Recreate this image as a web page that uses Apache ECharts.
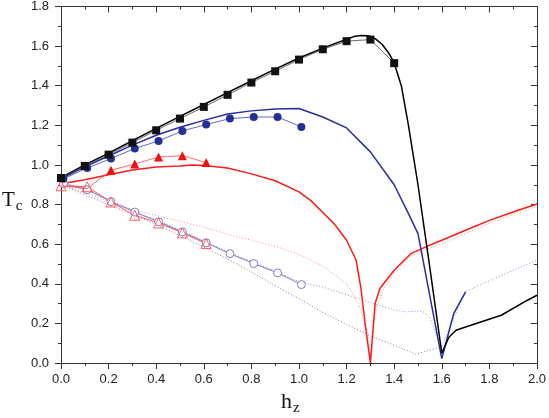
<!DOCTYPE html>
<html>
<head>
<meta charset="utf-8">
<script src="https://cdn.jsdelivr.net/npm/echarts@6/dist/echarts.min.js"></script>
<style>
  html, body { margin: 0; padding: 0; background: #fff; }
  #chart { width: 549px; height: 418px; }
</style>
</head>
<body>
<div id="chart"></div>
<script>
// filled squares + thick black curve
const squareX = [0, 0.1, 0.2, 0.3, 0.4, 0.5, 0.6, 0.7, 0.8, 0.9, 1.0, 1.1, 1.2, 1.3, 1.4]
const squareY = [0.934, 0.995, 1.052, 1.113, 1.175, 1.234, 1.293, 1.354, 1.416, 1.473, 1.532, 1.584, 1.625, 1.633, 1.514]
const blackX = [0, 0.1, 0.2, 0.3, 0.4, 0.5, 0.6, 0.7, 0.8, 0.9, 1.0, 1.1, 1.2, 1.23, 1.26, 1.29, 1.32, 1.35, 1.38, 1.4, 1.43, 1.46, 1.5, 1.55, 1.6, 1.63, 1.66, 1.7, 1.85, 1.96, 2.0]
const blackY = [0.936, 1.0, 1.06, 1.122, 1.185, 1.245, 1.305, 1.365, 1.425, 1.484, 1.54, 1.59, 1.635, 1.648, 1.654, 1.652, 1.638, 1.608, 1.56, 1.515, 1.40, 1.2, 0.9, 0.48, 0.05, 0.13, 0.165, 0.182, 0.241, 0.317, 0.342]

// filled circles + thick blue curve
const circleX = [0.01, 0.11, 0.21, 0.31, 0.41, 0.51, 0.61, 0.71, 0.81, 0.91, 1.01]
const circleY = [0.93, 0.985, 1.032, 1.083, 1.121, 1.172, 1.204, 1.234, 1.242, 1.242, 1.192]
const blueX = [0, 0.1, 0.2, 0.3, 0.4, 0.5, 0.6, 0.7, 0.8, 0.9, 1.0, 1.1, 1.2, 1.3, 1.4, 1.46, 1.5, 1.6, 1.65, 1.7]
const blueY = [0.93, 0.99, 1.045, 1.1, 1.15, 1.19, 1.225, 1.257, 1.273, 1.282, 1.285, 1.242, 1.187, 1.066, 0.9, 0.754, 0.653, 0.022, 0.249, 0.359]

// filled triangles + thick red curve
const triX = [0, 0.11, 0.21, 0.31, 0.41, 0.51, 0.61]
const triY = [0.895, 0.88, 0.973, 1.005, 1.04, 1.047, 1.012]
const redX = [0, 0.1, 0.2, 0.3, 0.4, 0.5, 0.55, 0.6, 0.7, 0.8, 0.9, 1.0, 1.05, 1.1, 1.15, 1.2, 1.24, 1.26, 1.28, 1.3, 1.32, 1.34, 1.4, 1.47, 1.54, 1.6, 1.7, 1.8, 1.9, 2.0]
const redY = [0.905, 0.925, 0.95, 0.975, 0.99, 0.995, 1.0, 0.997, 0.985, 0.955, 0.92, 0.864, 0.82, 0.76, 0.70, 0.62, 0.52, 0.38, 0.18, 0.0, 0.30, 0.376, 0.468, 0.552, 0.59, 0.62, 0.67, 0.72, 0.762, 0.803]

// open symbols
const openTriX = [0, 0.11, 0.21, 0.31, 0.41, 0.51, 0.61]
const openTriY = [0.895, 0.89, 0.813, 0.746, 0.707, 0.657, 0.603]
const openCircX = [0.01, 0.11, 0.21, 0.31, 0.41, 0.51, 0.61, 0.71, 0.81, 0.91, 1.01]
const openCircY = [0.905, 0.875, 0.815, 0.762, 0.713, 0.662, 0.607, 0.552, 0.502, 0.455, 0.396]

// dotted curves
const pinkDotX = [0, 0.1, 0.2, 0.3, 0.4, 0.5, 0.6, 0.7, 0.8, 0.9, 1.0, 1.1, 1.2, 1.25, 1.29, 1.3, 1.32, 1.35, 1.4, 1.47, 1.55, 1.6, 1.7, 1.8, 1.9, 2.0]
const pinkDotY = [0.9, 0.86, 0.815, 0.775, 0.745, 0.715, 0.685, 0.65, 0.62, 0.59, 0.548, 0.49, 0.40, 0.30, 0.15, 0.04, 0.26, 0.36, 0.455, 0.54, 0.58, 0.6, 0.655, 0.705, 0.75, 0.79]
const blueDotX = [0, 0.1, 0.2, 0.3, 0.4, 0.5, 0.6, 0.7, 0.8, 0.9, 1.0, 1.1, 1.2, 1.3, 1.4, 1.45, 1.5, 1.52, 1.55, 1.58, 1.6, 1.64, 1.7, 1.82, 2.0]
const blueDotY = [0.91, 0.885, 0.825, 0.772, 0.722, 0.672, 0.617, 0.562, 0.512, 0.465, 0.41, 0.383, 0.345, 0.305, 0.268, 0.258, 0.263, 0.26, 0.232, 0.13, 0.08, 0.2, 0.36, 0.426, 0.52]
const greyDotX = [0, 0.2, 0.4, 0.5, 0.6, 0.7, 0.8, 0.9, 1.0, 1.1, 1.2, 1.3, 1.4, 1.49, 1.55, 1.6]
const greyDotY = [0.9, 0.8, 0.7, 0.643, 0.585, 0.525, 0.46, 0.39, 0.325, 0.255, 0.195, 0.137, 0.09, 0.045, 0.065, 0.08]

const zip = (xs, ys) => xs.map((x, i) => [x, ys[i]])

const chart = echarts.init(document.getElementById('chart'))

const axisFont = { color: '#222', fontSize: 13, fontFamily: "'Liberation Sans', Arial, sans-serif" }
const serif = "'Liberation Serif', 'DejaVu Serif', serif"
const lineCol = { color: '#333', width: 1 }

chart.setOption({
  animation: false,
  grid: { left: 61, right: 10, top: 6, bottom: 55 },
  xAxis: [
    {
      type: 'value', min: 0, max: 2, interval: 0.2,
      axisLine: { show: true, lineStyle: lineCol },
      axisTick: { show: true, inside: false, length: 6, lineStyle: lineCol },
      minorTick: { show: true, splitNumber: 2, length: 3, lineStyle: lineCol },
      axisLabel: { ...axisFont, margin: 10, formatter: v => v.toFixed(1) },
      splitLine: { show: false }
    },
    {
      type: 'value', min: 0, max: 2, interval: 0.2, position: 'top',
      axisLine: { show: true, onZero: false, lineStyle: lineCol },
      axisTick: { show: true, inside: true, length: 6, lineStyle: lineCol },
      minorTick: { show: true, splitNumber: 2, length: 3, lineStyle: lineCol },
      axisLabel: { show: false },
      splitLine: { show: false }
    }
  ],
  yAxis: [
    {
      type: 'value', min: 0, max: 1.8, interval: 0.2,
      axisLine: { show: true, lineStyle: lineCol },
      axisTick: { show: true, inside: false, length: 6, lineStyle: lineCol },
      minorTick: { show: true, splitNumber: 2, length: 3, lineStyle: lineCol },
      axisLabel: { ...axisFont, margin: 12, formatter: v => v.toFixed(1) },
      splitLine: { show: false }
    },
    {
      type: 'value', min: 0, max: 1.8, interval: 0.2, position: 'right',
      axisLine: { show: true, onZero: false, lineStyle: lineCol },
      axisTick: { show: true, inside: true, length: 6, lineStyle: lineCol },
      minorTick: { show: true, splitNumber: 2, length: 3, lineStyle: lineCol },
      axisLabel: { show: false },
      splitLine: { show: false }
    }
  ],
  graphic: [
    {
      type: 'text', left: 2, top: 190,
      style: {
        text: '{t|T}{s|c}',
        rich: {
          t: { fontFamily: serif, fontSize: 21, fill: '#111' },
          s: { fontFamily: serif, fontSize: 15, fill: '#111', padding: [12, 0, 0, 1] }
        }
      }
    },
    {
      type: 'text', left: 281, top: 391,
      style: {
        text: '{t|h}{s|z}',
        rich: {
          t: { fontFamily: serif, fontSize: 22, fill: '#111' },
          s: { fontFamily: serif, fontSize: 15, fill: '#111', padding: [12, 0, 0, 1] }
        }
      }
    }
  ],
  series: [
    {
      type: 'line', data: zip(greyDotX, greyDotY), symbol: 'none', z: 1,
      lineStyle: { color: '#7a78a8', width: 1, type: [1, 2] }
    },
    {
      type: 'line', data: zip(blueDotX, blueDotY), symbol: 'none', z: 1,
      lineStyle: { color: '#8e8ccc', width: 1, type: [1, 2] }
    },
    {
      type: 'line', data: zip(pinkDotX, pinkDotY), symbol: 'none', z: 1,
      lineStyle: { color: '#f08a8a', width: 1, type: [1, 2] }
    },
    {
      type: 'line', data: zip(redX, redY), symbol: 'none', z: 2,
      lineStyle: { color: '#ff1a1a', width: 1.5 }
    },
    {
      type: 'line', data: zip(blueX, blueY), symbol: 'none', z: 2,
      lineStyle: { color: '#2a2ca0', width: 1.5 }
    },
    {
      type: 'line', data: zip(blackX, blackY), symbol: 'none', z: 2,
      lineStyle: { color: '#000', width: 1.5 }
    },
    {
      type: 'line', data: zip(openCircX, openCircY), z: 3,
      symbol: 'circle', symbolSize: 8,
      itemStyle: { color: '#fff', borderColor: '#7d7bc8', borderWidth: 1 },
      lineStyle: { color: '#7d7bc8', width: 1 }
    },
    {
      type: 'line', data: zip(openTriX, openTriY), z: 3,
      symbol: 'triangle', symbolSize: 10,
      itemStyle: { color: 'rgba(255,255,255,0)', borderColor: '#ff5a5a', borderWidth: 1 },
      lineStyle: { color: '#ff5a5a', width: 1 }
    },
    {
      type: 'line', z: 4,
      data: zip(triX, triY).map((p, i) => i < 2 ? { value: p, symbol: 'none' } : p),
      symbol: 'triangle', symbolSize: 9,
      itemStyle: { color: '#f01010' },
      lineStyle: { color: '#ff4a4a', width: 0.8 }
    },
    {
      type: 'line', data: zip(circleX, circleY), z: 4,
      symbol: 'circle', symbolSize: 8,
      itemStyle: { color: '#262f94' },
      lineStyle: { color: '#3a42a8', width: 0.8 }
    },
    {
      type: 'line', data: zip(squareX, squareY), z: 5,
      symbol: 'rect', symbolSize: 8,
      itemStyle: { color: '#111' },
      lineStyle: { color: '#444', width: 0.8 }
    }
  ]
})
</script>
</body>
</html>
